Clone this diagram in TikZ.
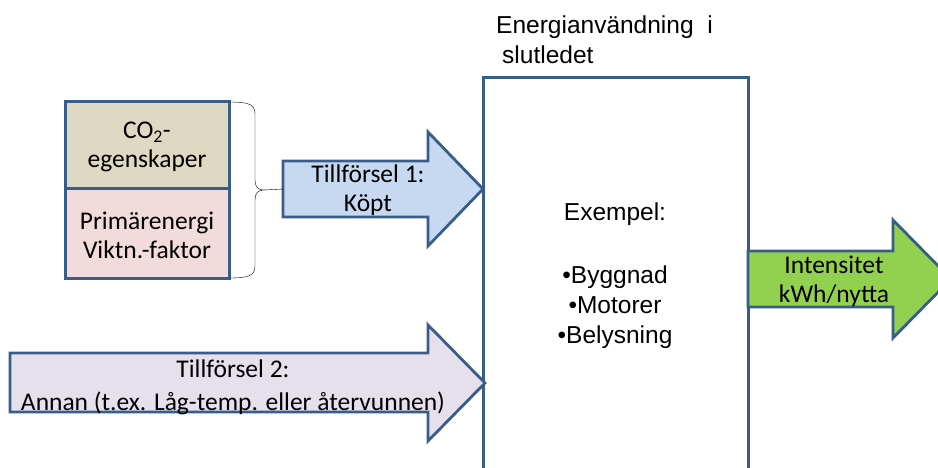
\documentclass[tikz,border=0pt]{standalone}
\usepackage{fontspec}
\setmainfont{Carlito}
\newfontfamily\arialfont{Liberation Sans}
\definecolor{kant}{RGB}{56,93,138}
\definecolor{ljusbla}{RGB}{198,217,241}
\definecolor{lila}{RGB}{230,224,236}
\definecolor{gron}{RGB}{146,208,80}
\definecolor{beige}{RGB}{221,217,195}
\definecolor{rosa}{RGB}{242,220,219}

\begin{document}
\begin{tikzpicture}[x=1pt,y=-1pt,
    ruta/.style={draw=kant, line width=3pt},
    pil/.style={draw=kant, line width=2.8pt, line join=miter},
    etikett/.style={align=center, font=\fontsize{25.5}{29}\selectfont},
    arialtext/.style={font=\arialfont\fontsize{24.5}{30}\selectfont, inner sep=0pt}]
    \useasboundingbox (0,0) rectangle (938,468);
    \clip (0,0) rectangle (938,468);

    % Huvudruta (oppen nedtill)
    \draw[ruta] (483,480) -- (483,78) -- (748,78) -- (748,480);

    % Egenskaper
    \draw[ruta, fill=beige] (65,102) rectangle (229,189);
    \draw[ruta, fill=rosa] (65,189) rectangle (229,278);
    \node[etikett] (co2) at (147,147) {CO\textsubscript{2}-\\egenskaper};
    \node[etikett] (prim) at (147,235) {Primärenergi\\Viktn.-faktor};

    % Klammer
    \draw[black, thin] (229,102) .. controls (248,102) and (255,104) .. (255,114)
        -- (255,180) .. controls (255,187) and (258,190) .. (264,190)
        coordinate (spets)
        .. controls (258,190) and (255,193) .. (255,200)
        -- (255,266) .. controls (255,276) and (248,278) .. (229,278);

    % Tillforsel 1
    \filldraw[pil, fill=ljusbla] (283,161) -- (428,161) -- (428,132) -- (483,189)
        -- (428,246) -- (428,217) -- (283,217) -- cycle;
    \coordinate (svans1) at (283,189);
    \draw[black, thin] (spets) -- (svans1);
    \node[etikett] (till1) at (368,190) {Tillförsel 1:\\Köpt};

    % Tillforsel 2
    \filldraw[pil, fill=lila] (10,353) -- (428,353) -- (428,325) -- (485,383)
        -- (428,441) -- (428,412) -- (10,412) -- cycle;
    \node[etikett] (till2) at (233,387) {Tillförsel 2:\\[4pt]Annan (t.ex. Låg-temp. eller återvunnen)};

    % Intensitet
    \filldraw[pil, fill=gron] (748,251) -- (893,251) -- (893,220) -- (951,279)
        -- (893,338) -- (893,307) -- (748,307) -- cycle;
    \node[etikett] (intens) at (834,281) {Intensitet\\kWh/nytta};

    % Texter i och ovanfor rutan
    \node[arialtext, anchor=north west, align=left] (rubrik) at (496,16)
        {Energianvändning\ \ i\\\hspace{6pt}slutledet};
    \node[arialtext, anchor=north, align=center] (exempel) at (615,203)
        {Exempel:\\[33pt]•Byggnad\\•Motorer\\•Belysning};
\end{tikzpicture}
\end{document}
